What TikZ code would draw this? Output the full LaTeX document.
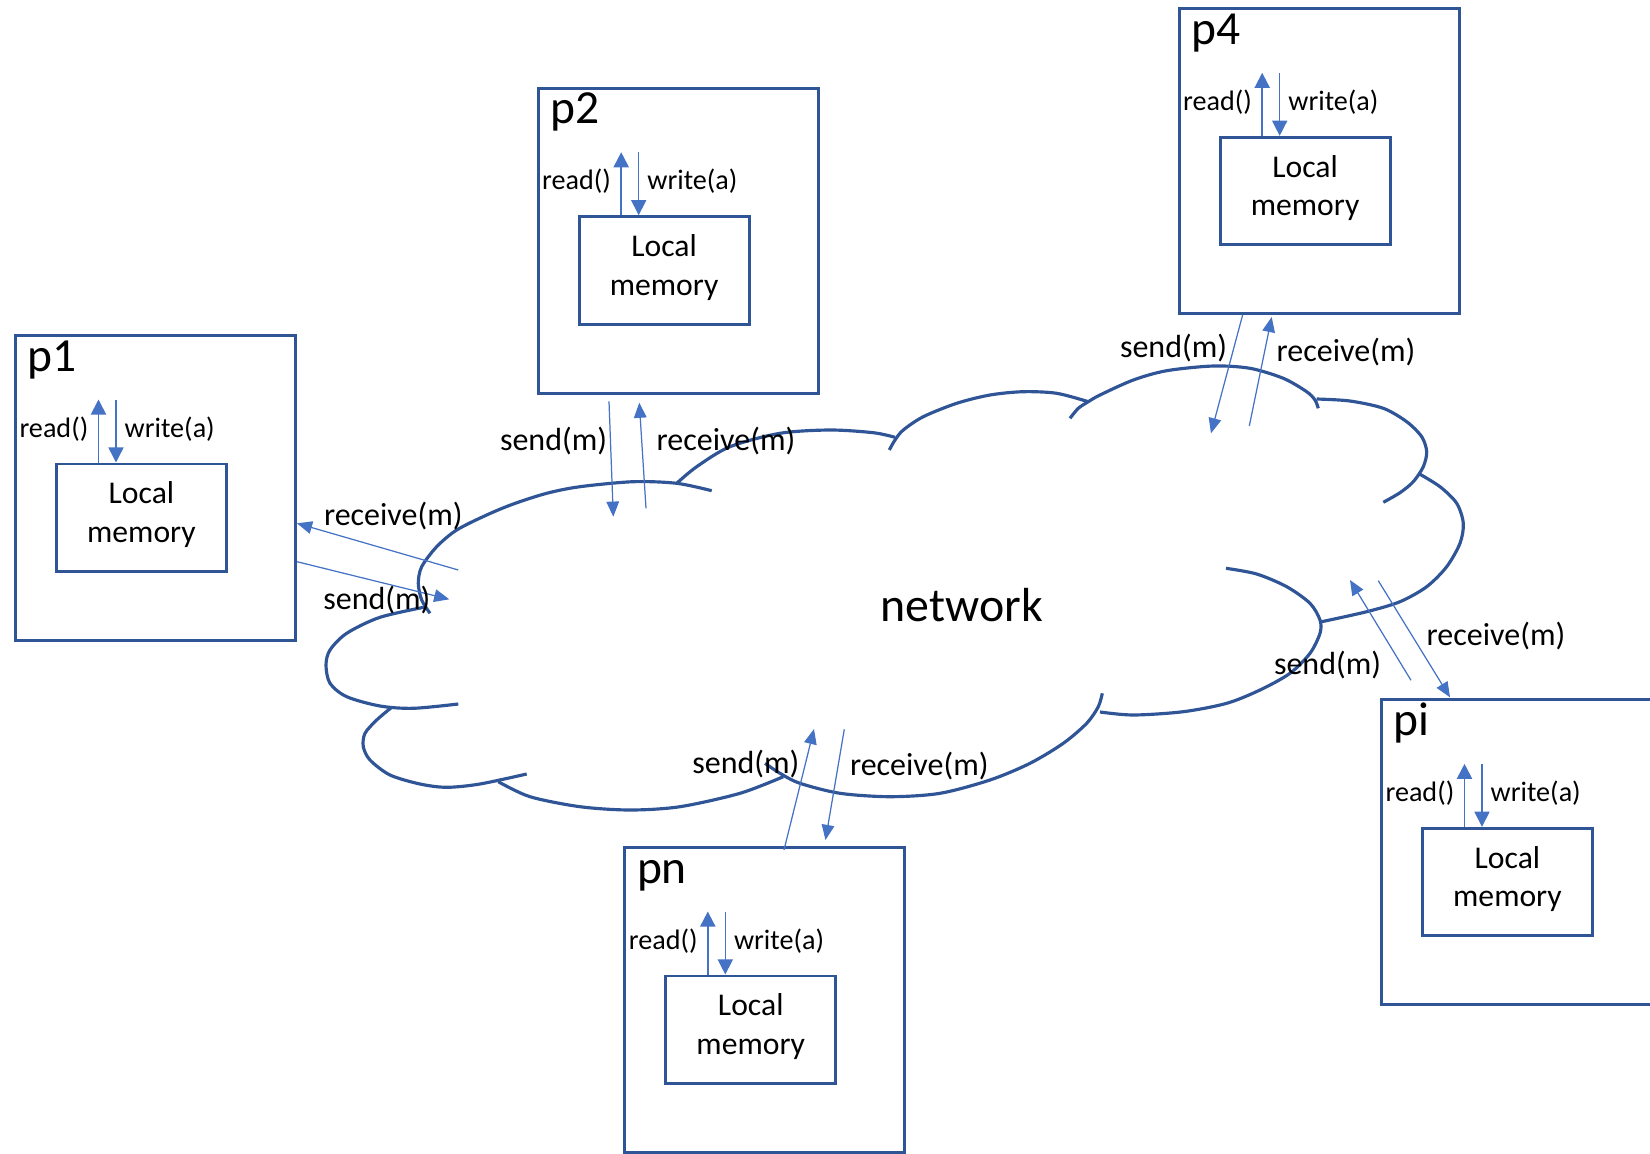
\documentclass[tikz,border=0pt]{standalone}
\usepackage{fontspec}
\setmainfont{Carlito}
\usetikzlibrary{arrows.meta,calc}
\definecolor{boxColor}{RGB}{47,85,151}
\definecolor{arrowColor}{RGB}{68,114,196}
\tikzstyle{picture} = [x = .01cm, y = -.01cm]
\tikzstyle{procStyle} = [draw=boxColor, line width=.8pt, minimum width=2.80cm, minimum height=3.05cm, inner sep=0pt]
\tikzstyle{memStyle} = [draw=boxColor, line width=.8pt, minimum width=1.70cm, minimum height=1.075cm, inner sep=0pt]
\tikzstyle{memText} = [inner sep=0pt, align=center, font=\fontsize{9}{11}\selectfont]
\tikzstyle{procLabel} = [anchor=base west, inner sep=0pt, font=\fontsize{13.5}{16}\selectfont]
\tikzstyle{opLabel} = [inner sep=0pt, font=\fontsize{8}{9}\selectfont]
\tikzstyle{msgLabel} = [anchor=base west, inner sep=0pt, font=\fontsize{9.1}{11}\selectfont]
\tikzstyle{readArrow} = [draw=arrowColor, line width=.55pt, -{Triangle[length=4.3pt, width=4.3pt]}]
\tikzstyle{writeArrow} = [draw=arrowColor, line width=.4pt, -{Triangle[length=4.3pt, width=4.3pt]}]
\tikzstyle{msgArrow} = [draw=arrowColor, line width=.35pt, -{Triangle[length=4.3pt, width=3.6pt]}]
\tikzstyle{cloudLine} = [draw=boxColor, line width=.9pt]
\newcommand{\processBox}[4]{
  \node [procStyle, anchor=north west] (#1) at (#2,#3) {};
  \node [procLabel] (#1label) at ($(#1.north west)+(13,37)$) {#4};
  \node [memStyle, anchor=north west] (#1mem) at ($(#1.north west)+(41,128.5)$) {};
  \node [memText] (#1memtext) at ($(#1mem.center)+(0,-3)$) {Local\\memory};
  \coordinate (#1read) at ($(#1mem.north west)+(43.5,-63)$);
  \coordinate (#1write) at ($(#1mem.north west)+(61,-63)$);
  \draw [readArrow] (#1mem.north west -| #1read) -- (#1read);
  \draw [writeArrow] (#1write) -- (#1mem.north west -| #1write);
  \node [opLabel, anchor=base east] (#1readlabel) at ($(#1mem.north west)+(34,-25.5)$) {read()};
  \node [opLabel, anchor=base west] (#1writelabel) at ($(#1mem.north west)+(69,-25.5)$) {write(a)};
}

\begin{document}
\begin{tikzpicture}[picture]
  \useasboundingbox (0,0) rectangle (1650,1154);
  % processes
  \processBox{p1}{14}{334}{p1}
  \processBox{p2}{536.7}{86.7}{p2}
  \processBox{p4}{1177.7}{7.3}{p4}
  \processBox{pi}{1380}{698.3}{pi}
  \processBox{pn}{623.3}{846}{pn}
  % cloud, one lobe at a time
  \draw [cloudLine] plot [smooth] coordinates {(430,613.3) (421.7,600) (418.3,583.3) (421.7,566.7) (436.7,546.7) (456.7,530) (486.7,515) (513.3,504) (546.7,493.3) (580,486.7) (633.3,481.7) (676.7,483.3) (711.7,490.7)};
  \draw [cloudLine] plot [smooth] coordinates {(426.7,606.7) (380,617.3) (346.7,633.3) (330,650) (326,665) (330,683.3) (346.7,696.7) (380,706) (413.3,708.3) (458.3,704)};
  \draw [cloudLine] plot [smooth] coordinates {(391.7,707.3) (376.7,720) (365,733.3) (363.3,746.7) (370,760) (390,775) (420,784) (446.7,787.3) (480,784) (526.7,774)};
  \draw [cloudLine] plot [smooth] coordinates {(498.3,781.7) (530,796.7) (580,806.7) (630,810) (680,806.7) (740,793.3) (783.3,776.7)};
  \draw [cloudLine] plot [smooth] coordinates {(765,763.3) (780,773.3) (800,783.3) (840,793.3) (890,796.7) (940,793.3) (990,780) (1030,763.3) (1063.3,743.3) (1086.7,723.3) (1098.3,706.7) (1102.3,693.3)};
  \draw [cloudLine] plot [smooth] coordinates {(1100,712) (1133.3,715) (1183.3,711.7) (1226.7,703.3) (1260,690) (1290,673.3) (1310,653.3) (1320,633.3) (1320,620) (1310,603.3) (1286.7,586.7) (1256.7,574) (1226,568.3)};
  \draw [cloudLine] plot [smooth] coordinates {(1321.7,621.7) (1366.7,611.7) (1400,601.7) (1426.7,586.7) (1446.7,566.7) (1460,543.3) (1463.3,523.3) (1456.7,503.3) (1440,486.7) (1418.3,473.3)};
  \draw [cloudLine] plot [smooth] coordinates {(1316.7,399) (1350,401) (1383.3,408.3) (1406.7,421.7) (1421.7,436.7) (1426.7,451.7) (1423.3,466.7) (1413.3,481.7) (1400,492.7) (1383.3,502.3)};
  \draw [cloudLine] plot [smooth] coordinates {(1070,418.3) (1078.3,408.3) (1088.3,401.7) (1100,395) (1133.3,380) (1166.7,370.7) (1213.3,366) (1250,368.3) (1283.3,378.3) (1306.7,391.7) (1315,400) (1318.3,408.3)};
  \draw [cloudLine] plot [smooth] coordinates {(889.3,450) (895,440) (903.3,430) (923.3,416.7) (956.7,403.3) (990,395) (1023.3,391.7) (1056.7,393.3) (1088.3,401.7)};
  \draw [cloudLine] plot [smooth] coordinates {(676.7,483.3) (696.7,466.7) (730,446.7) (780,433.3) (830,430) (873.3,432.7) (895,437.3)};
  \node [anchor=base west, inner sep=0pt, font=\fontsize{13.6}{16}\selectfont] (network) at (880,621.7) {network};
  % message ends
  \coordinate (p1in) at ($(p1.north east)+(0,189.3)$);
  \coordinate (p1out) at ($(p1.north east)+(0,227.7)$);
  \coordinate (p1recv) at (458.3,570);
  \coordinate (p1send) at (449.3,599.3);
  \coordinate (p2out) at ($(p2.south west)+(72.3,6.6)$);
  \coordinate (p2in) at ($(p2.south west)+(102.6,8)$);
  \coordinate (p2send) at (613.3,516.7);
  \coordinate (p2recv) at (646,508.3);
  \coordinate (p4out) at ($(p4.south west)+(65,-.6)$);
  \coordinate (p4in) at ($(p4.south west)+(94,1.7)$);
  \coordinate (p4send) at (1211,433.3);
  \coordinate (p4recv) at (1249.3,426);
  \coordinate (piout) at ($(pi.north west)+(31,-18)$);
  \coordinate (piin) at ($(pi.north west)+(70,-1)$);
  \coordinate (pisend) at (1350,580);
  \coordinate (pirecv) at (1378.3,580.7);
  \coordinate (pnout) at ($(pn.north west)+(160.7,4)$);
  \coordinate (pnin) at ($(pn.north west)+(202.2,-6)$);
  \coordinate (pnsend) at (814,729);
  \coordinate (pnrecv) at (844.3,729.3);
  % messages
  \draw [msgArrow] (p1recv) -- (p1in);
  \draw [msgArrow] (p1out) -- (p1send);
  \draw [msgArrow] (p2out) -- (p2send);
  \draw [msgArrow] (p2recv) -- (p2in);
  \draw [msgArrow] (p4out) -- (p4send);
  \draw [msgArrow] (p4recv) -- (p4in);
  \draw [msgArrow] (piout) -- (pisend);
  \draw [msgArrow] (pirecv) -- (piin);
  \draw [msgArrow] (pnout) -- (pnsend);
  \draw [msgArrow] (pnrecv) -- (pnin);
  \node [msgLabel] (p1recvlabel) at (323.3,525.7) {receive(m)};
  \node [msgLabel] (p1sendlabel) at (322.7,609.3) {send(m)};
  \node [msgLabel] (p2sendlabel) at (499.3,450) {send(m)};
  \node [msgLabel] (p2recvlabel) at (656,450) {receive(m)};
  \node [msgLabel] (p4sendlabel) at (1119.3,357.7) {send(m)};
  \node [msgLabel] (p4recvlabel) at (1276,361) {receive(m)};
  \node [msgLabel] (pirecvlabel) at (1426,645) {receive(m)};
  \node [msgLabel] (pisendlabel) at (1273.3,674.3) {send(m)};
  \node [msgLabel] (pnsendlabel) at (691.7,773.3) {send(m)};
  \node [msgLabel] (pnrecvlabel) at (849.3,775) {receive(m)};
\end{tikzpicture}
\end{document}
